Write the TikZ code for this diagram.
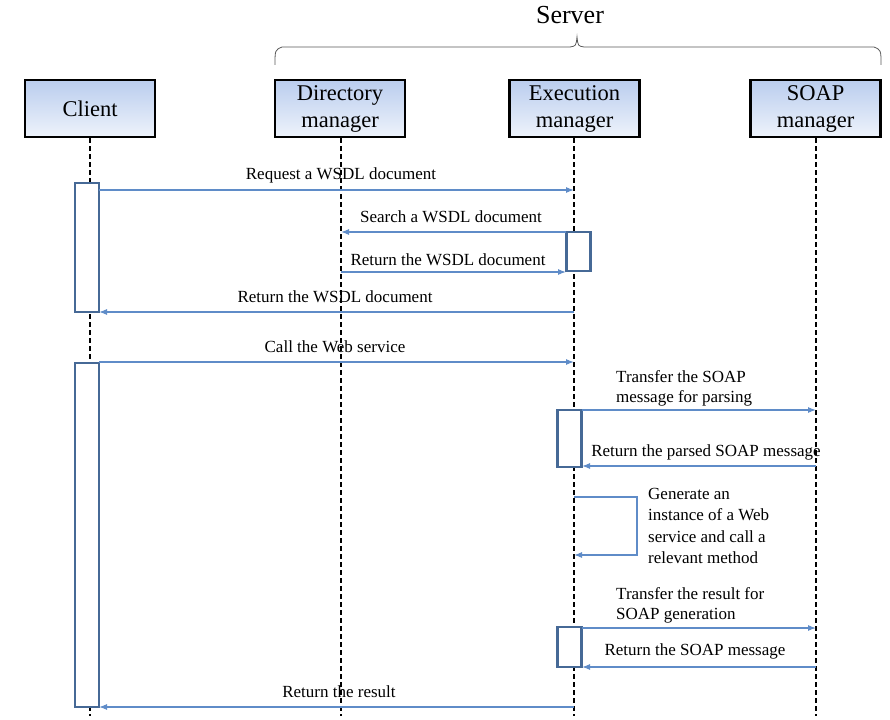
\documentclass[tikz,border=0pt]{standalone}
\usepackage{fontspec}
\setmainfont{Liberation Serif}
\usetikzlibrary{arrows.meta}
\definecolor{msgblue}{RGB}{95,140,200}
\definecolor{actblue}{RGB}{70,105,150}
\definecolor{hdtop}{RGB}{186,205,238}
\definecolor{hdbot}{RGB}{238,243,251}
\tikzset{
  header/.style={draw=black, line width=2.6pt, top color=hdtop, bottom color=hdbot,
    minimum width=130pt, minimum height=57pt, align=center, inner sep=1pt,
    font=\fontsize{22.5}{27}\selectfont},
  lifeline/.style={black, line width=1.8pt, dash pattern=on 5pt off 3pt},
  act/.style={draw=actblue, line width=2.6pt, fill=white, minimum width=24pt, inner sep=0pt},
  msg/.style={msgblue, line width=1.1pt, -{Latex[length=8pt,width=6pt]}},
  lbl/.style={font=\fontsize{17}{20}\selectfont, inner sep=0pt},
  brace/.style={gray!70!black, line width=0.8pt}
}
\begin{document}
\begin{tikzpicture}[x=1pt,y=-1pt]
\useasboundingbox (0,0) rectangle (890,719);

% Participants
\node[header] (client) at (90,108.5) {Client};
\node[header] (dir) at (340,108.5) {Directory\\manager};
\node[header] (exe) at (574.5,108.5) {Execution\\manager};
\node[header] (soap) at (815.5,108.5) {SOAP\\manager};

% Server grouping brace
\node[font=\fontsize{26}{30}\selectfont] (server) at (570,15) {Server};
\draw[brace] (275,65) .. controls (275,50) .. (282,47) -- (570,47)
  .. controls (576,46) .. (577,37) .. controls (578,46) .. (584,47) -- (874,47)
  .. controls (881,50) .. (881,65);

% Lifelines
\coordinate (clientEnd) at (90,716);
\coordinate (dirEnd) at (341,716);
\coordinate (exeEnd) at (574,716);
\coordinate (soapEnd) at (816,716);
\draw[lifeline] (client.south -| 90,0) -- (clientEnd);
\draw[lifeline] (dir.south -| 341,0) -- (dirEnd);
\draw[lifeline] (exe.south -| 574,0) -- (exeEnd);
\draw[lifeline] (soap.south -| 816,0) -- (soapEnd);

% Activation bars
\node[act, minimum height=129pt] (ca1) at (87,247.5) {};
\node[act, minimum height=344pt] (ca2) at (87,535) {};
\node[act, minimum height=39pt] (ea1) at (578.5,251.5) {};
\node[act, minimum height=57pt] (ea2) at (569.5,438.5) {};
\node[act, minimum height=40pt] (ea3) at (569.5,647) {};

% Message end points
\coordinate (m1a) at (99,190);   \coordinate (m1b) at (574,190);
\coordinate (m2a) at (566,232);  \coordinate (m2b) at (341,232);
\coordinate (m3a) at (341,272);  \coordinate (m3b) at (566,272);
\coordinate (m4a) at (574,312);  \coordinate (m4b) at (99,312);
\coordinate (m5a) at (99,362);   \coordinate (m5b) at (574,362);
\coordinate (m6a) at (582,410);  \coordinate (m6b) at (816,410);
\coordinate (m7a) at (816,466);  \coordinate (m7b) at (582,466);
\coordinate (s1) at (574,497);   \coordinate (s2) at (637,497);
\coordinate (s3) at (637,555);   \coordinate (s4) at (574,555);
\coordinate (m9a) at (582,628);  \coordinate (m9b) at (816,628);
\coordinate (m10a) at (816,667); \coordinate (m10b) at (582,667);
\coordinate (m11a) at (574,707); \coordinate (m11b) at (99,707);

% Messages
\draw[msg] (m1a) -- (m1b);
\node[lbl] (l1) at (341,175) {Request a WSDL document};
\draw[msg] (m2a) -- (m2b);
\node[lbl] (l2) at (451,217) {Search a WSDL document};
\draw[msg] (m3a) -- (m3b);
\node[lbl] (l3) at (448,260) {Return the WSDL document};
\draw[msg] (m4a) -- (m4b);
\node[lbl] (l4) at (335,297) {Return the WSDL document};
\draw[msg] (m5a) -- (m5b);
\node[lbl] (l5) at (335,347) {Call the Web service};
\draw[msg] (m6a) -- (m6b);
\node[lbl, align=left, anchor=north west] (l6) at (616,370) {Transfer the SOAP\\message for parsing};
\draw[msg] (m7a) -- (m7b);
\node[lbl] (l7) at (706,452) {Return the parsed SOAP message};
\draw[msg] (s1) -- (s2) -- (s3) -- (s4);
\node[lbl, align=left, anchor=north west, font=\fontsize{17}{21.5}\selectfont] (l8) at (648,488) {Generate an\\instance of a Web\\service and call a\\relevant method};
\draw[msg] (m9a) -- (m9b);
\node[lbl, align=left, anchor=north west] (l9) at (616,587) {Transfer the result for\\SOAP generation};
\draw[msg] (m10a) -- (m10b);
\node[lbl] (l10) at (695,651) {Return the SOAP message};
\draw[msg] (m11a) -- (m11b);
\node[lbl] (l11) at (339,692) {Return the result};
\end{tikzpicture}
\end{document}
